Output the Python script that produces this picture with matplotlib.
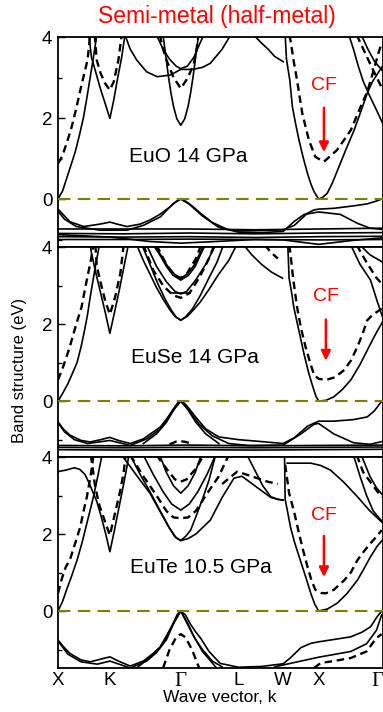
import numpy as np
import matplotlib
matplotlib.use("Agg")
import matplotlib.pyplot as plt
import matplotlib.transforms as mtransforms

plt.rcParams['font.family'] = ['Liberation Sans', 'DejaVu Sans']

# high symmetry points along the path (path length units)
KPTS = [0, 0.79, 1.87, 2.75, 3.43, 3.97, 4.93]
KLABELS = ['X', 'K', 'Γ', 'L', 'W', 'X', 'Γ']

# ---------------- EuO 14 GPa ----------------
EUO_SOLID = [
    [(0, 0), (0.07, 0.2), (0.13, 0.5), (0.2, 0.85), (0.26, 1.15), (0.33, 1.6), (0.39, 2.03), (0.44, 2.5), (0.49, 3.0), (0.54, 3.5), (0.59, 4.05)],
    [(0.47, 4.05), (0.51, 3.5), (0.58, 3.1), (0.65, 2.7), (0.72, 2.35), (0.79, 1.99), (0.85, 2.45), (0.91, 3.0), (0.97, 3.5), (1.02, 4.05)],
    [(1.6, 4.05), (1.64, 3.55), (1.68, 3.05), (1.72, 2.62), (1.76, 2.28), (1.81, 1.98), (1.87, 1.82), (1.93, 1.98), (1.98, 2.28), (2.02, 2.62), (2.06, 3.05), (2.1, 3.55), (2.14, 4.05)],
    [(1.02, 4.05), (1.1, 3.7), (1.2, 3.43), (1.35, 3.14), (1.51, 3.02), (1.71, 3.06), (1.87, 3.2), (2.05, 3.2), (2.2, 3.25), (2.32, 3.35), (2.5, 3.7), (2.63, 4.05)],
    [(1.5, 4.05), (1.6, 3.7), (1.7, 3.45), (1.8, 3.28), (1.87, 3.22), (1.97, 3.28), (2.07, 3.5), (2.15, 3.8), (2.22, 4.05)],
    [(2.98, 4.05), (3.1, 3.85), (3.2, 3.7), (3.3, 3.52), (3.43, 3.39)],
    [(3.46, 4.05), (3.48, 3.45), (3.53, 2.94), (3.57, 2.28), (3.62, 1.85), (3.67, 1.46), (3.73, 1.05), (3.8, 0.63), (3.85, 0.38), (3.9, 0.18), (3.97, 0.0),
     (4.03, 0.04), (4.1, 0.14), (4.18, 0.4), (4.26, 0.72), (4.38, 1.2), (4.51, 1.7), (4.61, 2.15), (4.71, 2.61), (4.79, 2.9), (4.87, 3.1), (4.95, 3.3)],
    [(4.43, 4.05), (4.5, 3.7), (4.57, 3.3), (4.65, 2.9), (4.74, 2.57), (4.85, 2.2), (4.95, 1.85)],
    [(4.62, 4.05), (4.72, 3.7), (4.82, 3.4), (4.95, 3.15)],
    # valence
    [(0, -0.25), (0.1, -0.42), (0.18, -0.56), (0.39, -0.68), (0.64, -0.62), (0.79, -0.57), (0.9, -0.62), (1.05, -0.68), (1.25, -0.62), (1.4, -0.52),
     (1.55, -0.38), (1.71, -0.19), (1.8, -0.06), (1.87, 0.0), (1.95, -0.06), (2.05, -0.18), (2.17, -0.35), (2.35, -0.58), (2.58, -0.75), (2.75, -0.79),
     (3.0, -0.78), (3.25, -0.77), (3.43, -0.76), (3.6, -0.65), (3.8, -0.35), (3.9, -0.27), (3.97, -0.25), (4.2, -0.23), (4.5, -0.17), (4.71, -0.12), (4.85, -0.05), (4.93, 0.0)],
    [(0, -0.3), (0.1, -0.5), (0.28, -0.68), (0.64, -0.77), (1.05, -0.77), (1.3, -0.65), (1.56, -0.44), (1.75, -0.12), (1.87, 0.0), (2.0, -0.13), (2.2, -0.42),
     (2.45, -0.7), (2.75, -0.82), (3.1, -0.83), (3.43, -0.8), (3.6, -0.55), (3.75, -0.38), (3.97, -0.32), (4.3, -0.38), (4.56, -0.6), (4.75, -0.72), (4.93, -0.75)],
    [(0, -0.74), (1.0, -0.74), (2.0, -0.74), (3.0, -0.76), (4.0, -0.74), (4.93, -0.72)],
    [(0, -0.85), (1.0, -0.86), (2.0, -0.84), (3.0, -0.86), (4.0, -0.84), (4.93, -0.83)],
    [(0, -0.93), (1.0, -0.94), (2.0, -0.93), (3.0, -0.95), (4.0, -0.93), (4.93, -0.92)],
    [(0, -1.0), (1.0, -1.0), (2.0, -0.99), (3.0, -1.0), (4.0, -1.01), (4.93, -1.0)],
    [(0, -0.88), (0.8, -0.94), (1.4, -1.05), (1.87, -1.09), (2.4, -1.05), (3.0, -1.0), (3.43, -1.01), (3.97, -1.12), (4.5, -1.02), (4.93, -0.96)],
]
EUO_DASHED = [
    [(0, 0.88), (0.04, 0.98), (0.08, 1.13), (0.14, 1.42), (0.21, 1.79), (0.28, 2.25), (0.34, 2.69), (0.4, 3.1), (0.45, 3.43), (0.49, 4.05)],
    [(0.56, 4.05), (0.59, 3.43), (0.65, 3.1), (0.72, 2.85), (0.79, 2.69), (0.85, 2.9), (0.92, 3.43), (0.97, 4.05)],
    [(1.55, 4.05), (1.6, 3.7), (1.66, 3.4), (1.76, 3.0), (1.87, 2.73), (1.98, 3.0), (2.07, 3.35), (2.11, 3.7), (2.14, 4.05)],
    [(3.52, 4.05), (3.54, 3.93), (3.59, 3.4), (3.64, 2.94), (3.72, 2.12), (3.82, 1.46), (3.92, 1.04), (4.05, 0.92), (4.25, 1.21), (4.46, 1.7),
     (4.61, 2.28), (4.71, 2.65), (4.81, 3.19), (4.88, 3.6), (4.93, 3.85)],
    [(4.55, 4.05), (4.65, 3.7), (4.78, 3.25), (4.93, 2.75)],
]

# ---------------- EuSe 14 GPa ----------------
EUSE_SOLID = [
    [(0, 0), (0.07, 0.2), (0.15, 0.45), (0.22, 0.72), (0.29, 1.0), (0.35, 1.4), (0.4, 1.8), (0.45, 2.25), (0.49, 2.7), (0.53, 3.1), (0.57, 3.5), (0.63, 4.05)],
    [(0.49, 4.05), (0.51, 3.84), (0.58, 3.3), (0.65, 2.8), (0.72, 2.3), (0.79, 1.76), (0.86, 2.3), (0.93, 2.85), (1.0, 3.45), (1.07, 4.05)],
    [(1.2, 4.05), (1.3, 3.65), (1.4, 3.3), (1.5, 2.95), (1.61, 2.62), (1.7, 2.38), (1.78, 2.2), (1.87, 2.1), (1.97, 2.2), (2.07, 2.38), (2.17, 2.58),
     (2.3, 2.9), (2.45, 3.3), (2.6, 3.65), (2.72, 4.05)],
    [(1.28, 4.05), (1.4, 3.55), (1.52, 3.05), (1.63, 2.65), (1.73, 2.35), (1.8, 2.18), (1.87, 2.1), (1.95, 2.2), (2.05, 2.4), (2.17, 2.75), (2.3, 3.2), (2.42, 3.6), (2.52, 4.05)],
    [(1.45, 4.05), (1.55, 3.8), (1.65, 3.5), (1.75, 3.27), (1.87, 3.14), (1.99, 3.27), (2.09, 3.5), (2.17, 3.8), (2.24, 4.05)],
    [(1.47, 4.05), (1.57, 3.78), (1.67, 3.5), (1.77, 3.3), (1.87, 3.19), (1.97, 3.3), (2.07, 3.52), (2.15, 3.8), (2.22, 4.05)],
    [(1.35, 4.05), (1.5, 3.5), (1.65, 3.1), (1.78, 2.85), (1.87, 2.78), (1.96, 2.85), (2.1, 3.15), (2.25, 3.55), (2.4, 4.05)],
    [(1.74, 2.8), (2.01, 2.8)],
    [(2.83, 4.05), (2.95, 3.8), (3.1, 3.55), (3.25, 3.35), (3.42, 3.19)],
    [(3.5, 4.05), (3.52, 3.19), (3.56, 2.8), (3.59, 2.45), (3.64, 2.05), (3.69, 1.67), (3.75, 1.2), (3.82, 0.72), (3.88, 0.38), (3.93, 0.12), (3.97, 0.0),
     (4.08, 0.02), (4.2, 0.11), (4.33, 0.3), (4.46, 0.55), (4.6, 0.95), (4.71, 1.32), (4.8, 1.62), (4.87, 1.84), (4.95, 2.08)],
    [(4.46, 4.05), (4.6, 3.55), (4.76, 3.14), (4.86, 2.6), (4.95, 2.15)],
    [(4.6, 4.05), (4.75, 3.8), (4.95, 3.6)],
    # valence
    [(0, -0.54), (0.08, -0.72), (0.18, -0.88), (0.35, -1.02), (0.49, -1.06), (0.65, -1.0), (0.79, -0.94), (0.92, -1.02), (1.1, -1.1), (1.3, -0.98),
     (1.45, -0.8), (1.56, -0.67), (1.66, -0.45), (1.75, -0.22), (1.82, -0.05), (1.87, 0.0), (1.93, -0.06), (2.0, -0.2), (2.1, -0.42), (2.25, -0.72),
     (2.45, -0.93), (2.75, -1.0), (3.1, -1.05), (3.43, -1.1), (3.6, -0.95), (3.8, -0.65), (3.97, -0.52), (4.2, -0.52), (4.5, -0.48), (4.71, -0.41), (4.82, -0.25), (4.93, 0.0)],
    [(0, -0.56), (0.1, -0.8), (0.25, -1.0), (0.45, -1.1), (0.79, -1.02), (1.1, -1.15), (1.35, -0.98), (1.56, -0.72), (1.75, -0.25), (1.87, 0.0), (2.0, -0.25),
     (2.15, -0.6), (2.35, -0.9), (2.6, -1.1), (2.9, -1.15), (3.43, -1.14), (3.7, -0.85), (3.9, -0.6), (3.97, -0.58), (4.2, -0.85), (4.5, -1.08), (4.75, -1.12), (4.93, -1.05)],
    [(1.3, -1.1), (1.5, -0.85), (1.65, -0.55), (1.78, -0.18), (1.87, 0.0), (1.97, -0.2), (2.1, -0.55), (2.25, -0.85), (2.45, -1.1)],
    [(0, -1.15), (1.0, -1.16), (2.0, -1.14), (3.0, -1.16), (4.0, -1.15), (4.93, -1.14)],
    [(0, -1.2), (1.0, -1.21), (2.0, -1.2), (3.0, -1.21), (4.0, -1.2), (4.93, -1.19)],
    [(0, -1.26), (1.0, -1.27), (2.0, -1.26), (3.0, -1.27), (4.0, -1.26), (4.93, -1.25)],
]
EUSE_DASHED = [
    [(0, 0.55), (0.08, 0.9), (0.18, 1.41), (0.27, 1.95), (0.36, 2.45), (0.41, 2.9), (0.46, 3.32), (0.5, 3.65), (0.54, 4.05)],
    [(0.57, 4.05), (0.59, 3.5), (0.66, 3.0), (0.72, 2.6), (0.79, 2.25), (0.87, 2.7), (0.95, 3.32), (1.0, 4.05)],
    [(1.3, 4.05), (1.45, 3.4), (1.6, 3.0), (1.75, 2.75), (1.87, 2.68), (2.0, 2.8), (2.15, 3.2), (2.3, 3.7), (2.38, 4.05)],
    [(1.5, 4.05), (1.65, 3.55), (1.78, 3.25), (1.87, 3.2), (1.96, 3.3), (2.1, 3.7), (2.18, 4.05)],
    [(3.52, 4.05), (3.54, 3.84), (3.58, 3.2), (3.64, 2.45), (3.7, 1.9), (3.77, 1.41), (3.84, 1.0), (3.9, 0.68), (3.97, 0.58), (4.08, 0.55), (4.22, 0.62),
     (4.36, 0.81), (4.46, 1.05), (4.56, 1.41), (4.64, 1.75), (4.71, 2.1), (4.8, 2.25), (4.93, 2.4)],
    [(4.55, 4.05), (4.7, 3.6), (4.85, 3.2), (4.93, 3.05)],
    [(3.15, 4.05), (3.25, 3.85), (3.35, 3.7)],
    [(1.7, -1.12), (1.8, -1.05), (1.87, -1.04), (1.95, -1.06), (2.05, -1.12)],
]

# ---------------- EuTe 10.5 GPa ----------------
EUTE_SOLID = [
    [(0, 0), (0.07, 0.25), (0.13, 0.55), (0.21, 0.92), (0.29, 1.32), (0.37, 1.8), (0.44, 2.28), (0.49, 2.62), (0.54, 2.97), (0.6, 3.45), (0.67, 4.05)],
    [(0, 3.62), (0.12, 3.66), (0.25, 3.72), (0.33, 3.68), (0.41, 3.55), (0.48, 3.3), (0.54, 3.05), (0.59, 2.85), (0.65, 2.5), (0.72, 2.05), (0.79, 1.54),
     (0.86, 2.1), (0.93, 2.7), (1.0, 3.3), (1.05, 3.75), (1.08, 4.05)],
    [(0.97, 4.05), (1.1, 3.75), (1.25, 3.4), (1.4, 3.06), (1.55, 2.6), (1.68, 2.2), (1.78, 1.93), (1.87, 1.83), (1.98, 1.88), (2.1, 2.0), (2.32, 2.36),
     (2.5, 2.95), (2.68, 3.45), (2.8, 3.5), (3.0, 3.25), (3.24, 2.95), (3.35, 2.9), (3.43, 2.88)],
    [(1.1, 4.05), (1.25, 3.55), (1.4, 3.1), (1.55, 2.62), (1.7, 2.15), (1.8, 1.9), (1.87, 1.83), (1.95, 1.95), (2.02, 2.1), (2.1, 2.45), (2.2, 2.9), (2.3, 3.4), (2.4, 4.05)],
    [(1.3, 4.05), (1.45, 3.55), (1.6, 3.1), (1.73, 2.78), (1.87, 2.62), (2.0, 2.78), (2.13, 3.1), (2.27, 3.55), (2.4, 4.05)],
    [(1.55, 4.05), (1.65, 3.6), (1.76, 3.25), (1.87, 3.06), (1.98, 3.25), (2.09, 3.6), (2.18, 4.05)],
    [(2.88, 4.05), (3.0, 3.65), (3.12, 3.25), (3.24, 2.97), (3.35, 2.9), (3.43, 2.88)],
    [(3.45, 4.05), (3.46, 2.9), (3.5, 2.55), (3.54, 2.19), (3.6, 1.8), (3.69, 1.32), (3.77, 0.9), (3.85, 0.46), (3.91, 0.18), (3.97, 0.0),
     (4.1, 0.05), (4.25, 0.2), (4.4, 0.45), (4.56, 0.8), (4.66, 1.1), (4.76, 1.41), (4.86, 1.68), (4.95, 1.86)],
    [(3.49, 3.84), (3.7, 3.84), (3.85, 3.84), (4.0, 3.78), (4.15, 3.66), (4.35, 3.35), (4.56, 2.97), (4.75, 2.6), (4.95, 2.28)],
    [(4.5, 4.05), (4.6, 3.5), (4.7, 3.0), (4.8, 2.6), (4.95, 2.3)],
    [(4.62, 4.05), (4.75, 3.5), (4.85, 3.2), (4.95, 3.0)],
    # valence
    [(0, -0.75), (0.08, -0.92), (0.18, -1.1), (0.35, -1.27), (0.49, -1.32), (0.65, -1.25), (0.79, -1.19), (0.92, -1.3), (1.1, -1.43), (1.3, -1.3),
     (1.45, -1.1), (1.56, -0.93), (1.66, -0.65), (1.75, -0.33), (1.82, -0.08), (1.87, 0.0), (1.94, -0.1), (2.02, -0.35), (2.1, -0.55), (2.17, -0.7),
     (2.3, -1.05), (2.47, -1.36), (2.75, -1.46), (3.1, -1.44), (3.43, -1.37), (3.55, -1.2), (3.7, -0.95), (3.85, -0.84), (3.97, -0.8), (4.2, -0.74),
     (4.46, -0.67), (4.63, -0.55), (4.76, -0.41), (4.86, -0.15), (4.93, 0.0)],
    [(0, -0.78), (0.15, -1.12), (0.35, -1.32), (0.6, -1.38), (0.79, -1.3), (1.1, -1.48), (1.35, -1.3), (1.5, -1.08), (1.65, -0.75), (1.78, -0.25),
     (1.87, 0.0), (1.97, -0.3), (2.08, -0.7), (2.2, -1.0), (2.35, -1.3), (2.5, -1.45)],
    [(1.2, -1.48), (1.4, -1.2), (1.55, -0.95), (1.7, -0.5), (1.87, 0.0), (2.05, -0.6), (2.2, -1.05), (2.4, -1.45)],
    [(3.3, -1.45), (3.7, -1.3), (3.97, -1.2), (4.46, -1.05), (4.7, -0.85), (4.85, -0.5), (4.93, -0.1)],
]
EUTE_DASHED = [
    [(0, 0.46), (0.06, 0.85), (0.12, 1.15), (0.18, 1.32), (0.26, 1.75), (0.34, 2.19), (0.39, 2.6), (0.44, 2.97), (0.48, 3.35), (0.51, 3.66), (0.54, 4.05)],
    [(0.5, 4.05), (0.56, 3.3), (0.62, 2.8), (0.7, 2.4), (0.79, 1.97), (0.87, 2.55), (0.95, 3.14), (1.0, 3.6), (1.03, 4.05)],
    [(1.1, 4.05), (1.3, 3.5), (1.5, 3.0), (1.65, 2.6), (1.76, 2.43), (1.87, 2.41), (1.98, 2.43), (2.1, 2.6), (2.25, 3.0), (2.45, 3.5), (2.6, 4.05)],
    [(1.5, 4.05), (1.65, 3.7), (1.78, 3.42), (1.87, 3.36), (1.96, 3.42), (2.1, 3.7), (2.22, 4.05)],
    [(2.5, 3.3), (2.73, 3.62), (2.95, 3.5), (3.19, 3.36), (3.35, 3.3)],
    [(3.46, 3.8), (3.52, 3.06), (3.6, 2.55), (3.67, 2.02), (3.73, 1.6), (3.8, 1.15), (3.86, 0.8), (3.92, 0.55), (4.0, 0.47), (4.08, 0.46), (4.2, 0.55),
     (4.36, 0.8), (4.46, 1.0), (4.56, 1.32), (4.66, 1.55), (4.76, 1.76), (4.86, 1.95), (4.93, 2.1)],
    [(4.55, 4.05), (4.65, 3.6), (4.78, 3.3), (4.93, 2.95)],
    [(1.6, -1.48), (1.7, -1.0), (1.8, -0.68), (1.87, -0.6), (1.94, -0.68), (2.04, -1.0), (2.15, -1.48)],
    [(3.9, -1.48), (4.0, -1.35), (4.2, -1.3), (4.46, -1.22), (4.7, -1.05), (4.85, -0.7), (4.93, -0.6)],
]

W, H = 383, 712
fig = plt.figure(figsize=(W / 100, H / 100), dpi=100)


def panel(top, bot, ymin, solid, dashed, label, lab_xy, cf_xy, arr):
    ax = fig.add_axes([58 / W, 1 - bot / H, 325 / W, (bot - top) / H])
    for b in solid:
        k, e = zip(*b)
        ax.plot(k, e, color='k', lw=1.2, solid_joinstyle='round')
    for b in dashed:
        k, e = zip(*b)
        ax.plot(k, e, color='k', lw=1.7, dashes=(3.2, 2.0))
    ax.axhline(0, color='#7f7f00', lw=1.5, dashes=(6, 3.5), zorder=3)
    ax.set_xlim(0, 4.95)
    ax.set_ylim(ymin, 4)
    ax.set_yticks([0, 2, 4])
    ax.set_yticks([-1, 1, 3], minor=True)
    ax.tick_params(axis='y', which='major', direction='in', length=5, width=1, labelsize=13.5, pad=4)
    ax.tick_params(axis='y', which='minor', direction='in', length=3, width=1)
    ax.set_xticks(KPTS)
    ax.tick_params(axis='x', length=0, labelbottom=False)
    for s in ax.spines.values():
        s.set_linewidth(1.3)
    ax.text(lab_xy[0], lab_xy[1], label, fontsize=15, ha='center', va='center')
    ax.text(cf_xy[0], cf_xy[1], 'CF', color='red', fontsize=14, ha='center', va='center')
    ax.annotate('', xy=(arr[0], arr[2]), xytext=(arr[0], arr[1]),
                arrowprops=dict(arrowstyle='-|>', color='red', lw=1.8, mutation_scale=14))
    return ax


ax1 = panel(37, 247, -1.185, EUO_SOLID, EUO_DASHED, 'EuO 14 GPa', (1.98, 1.04), (4.05, 2.81), (4.05, 2.32, 1.09))
ax2 = panel(247, 457, -1.45, EUSE_SOLID, EUSE_DASHED, 'EuSe 14 GPa', (2.09, 1.14), (4.08, 2.71), (4.08, 2.19, 0.98))
ax3 = panel(457, 668, -1.48, EUTE_SOLID, EUTE_DASHED, 'EuTe 10.5 GPa', (2.17, 1.12), (4.05, 2.49), (4.05, 2.02, 0.81))

ax3.tick_params(axis='x', labelbottom=True, labelsize=13.5, pad=3)
ax3.set_xticklabels(KLABELS)
labs = ax3.get_xticklabels()
for t in labs:
    if t.get_text() == 'Γ':
        t.set_family(['Liberation Serif', 'DejaVu Serif'])
        t.set_fontsize(15)
# last label sits at the right edge of the figure; nudge it inwards a little
labs[-1].set_transform(labs[-1].get_transform() + mtransforms.ScaledTranslation(-4 / 100, 0, fig.dpi_scale_trans))

fig.text(217 / W, 1 - 17 / H, 'Semi-metal (half-metal)', color='red', fontsize=16.5, ha='center', va='center')
fig.text(20 / W, 1 - 370 / H, 'Band structure (eV)', fontsize=12, rotation=90, ha='center', va='center')
fig.text(220 / W, 1 - 697 / H, 'Wave vector, k', fontsize=12.5, ha='center', va='center')

fig.savefig('out.png', dpi=100)
